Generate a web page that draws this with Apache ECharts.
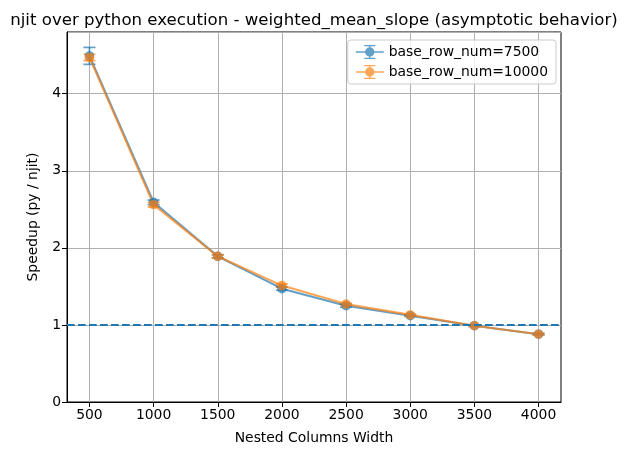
<!DOCTYPE html>
<html><head><meta charset="utf-8">
<script src="https://cdn.jsdelivr.net/npm/echarts@6/dist/echarts.min.js"></script>
<style>html,body{margin:0;padding:0;background:#fff}#c{width:628px;height:455px}</style>
</head><body><div id="c"></div>
<script>
const widths=[500,1000,1500,2000,2500,3000,3500,4000];
const speedup7500=[4.49,2.59,1.89,1.47,1.25,1.12,0.99,0.88];
const err7500=[0.11,0.03,0.02,0.02,0.02,0.01,0.01,0.01];
const speedup10000=[4.47,2.56,1.89,1.51,1.27,1.13,0.99,0.88];
const err10000=[0.04,0.03,0.02,0.02,0.01,0.01,0.01,0.01];
const xTicks=[500,1000,1500,2000,2500,3000,3500,4000];
const refLine=1;
const C0='#1f77b4', C1='#ff7f0e';
const FONT='DejaVu Sans';
const chart=echarts.init(document.getElementById('c'),null,{renderer:'canvas'});
const icon='path://M0,6.2L28,6.2L28,7.8L0,7.8Z M14,2.3A4.7,4.7 0 1,1 13.99,2.3Z M13.3,0L14.7,0L14.7,14L13.3,14Z M8.5,0L19.5,0L19.5,1.2L8.5,1.2Z M8.5,12.8L19.5,12.8L19.5,14L8.5,14Z';
function lineSeries(name,vals,color){
  return {type:'line',name,data:widths.map((w,i)=>[w,vals[i]]),symbol:'circle',symbolSize:9.5,
    lineStyle:{color,width:2.1,opacity:0.7},itemStyle:{color,opacity:0.7},z:4,animation:false};
}
function errSeries(name,vals,errs,color){
  return {type:'custom',name,data:widths.map((w,i)=>[w,vals[i]-errs[i],vals[i]+errs[i]]),
    encode:{x:0,y:[1,2]},z:3,silent:true,animation:false,
    renderItem:(params,api)=>{
      const lo=api.coord([api.value(0),api.value(1)]);
      const hi=api.coord([api.value(0),api.value(2)]);
      const cap=6;
      const st={stroke:color,lineWidth:1.7,opacity:0.7};
      return {type:'group',children:[
        {type:'line',shape:{x1:lo[0],y1:lo[1],x2:hi[0],y2:hi[1]},style:st},
        {type:'line',shape:{x1:lo[0]-cap,y1:lo[1],x2:lo[0]+cap,y2:lo[1]},style:st},
        {type:'line',shape:{x1:hi[0]-cap,y1:hi[1],x2:hi[0]+cap,y2:hi[1]},style:st}]};
    }};
}
const s1=lineSeries('base_row_num=7500',speedup7500,C0);
s1.markLine={silent:true,symbol:['none','none'],label:{show:false},
  lineStyle:{color:C0,width:2.1,type:[7.7,3.3],opacity:1},data:[{yAxis:refLine}]};
chart.setOption({
  animation:false,
  textStyle:{fontFamily:FONT},
  title:{text:'njit over python execution - weighted_mean_slope (asymptotic behavior)',left:'center',top:7,
    textStyle:{fontFamily:FONT,fontSize:16.6,fontWeight:'normal',color:'#000'}},
  grid:{left:67,right:67,top:32,bottom:53,show:true,borderColor:'#000',borderWidth:1,backgroundColor:'transparent'},
  legend:{orient:'vertical',right:72,top:40,align:'left',icon:icon,itemWidth:28,itemHeight:14,itemGap:6,
    padding:[5,8,5,8],backgroundColor:'rgba(255,255,255,0.8)',borderColor:'#cccccc',borderWidth:1,borderRadius:3,
    textStyle:{fontFamily:FONT,fontSize:13.9,color:'#000'},
    data:[{name:'base_row_num=7500',itemStyle:{color:C0,opacity:0.7}},{name:'base_row_num=10000',itemStyle:{color:C1,opacity:0.7}}]},
  xAxis:{type:'value',min:325,max:4175,name:'Nested Columns Width',nameLocation:'middle',nameGap:29,
    nameTextStyle:{fontFamily:FONT,fontSize:13.9,color:'#000'},
    axisLine:{show:true,lineStyle:{color:'#000',width:1}},
    axisTick:{show:true,length:5,inside:false,customValues:xTicks,lineStyle:{color:'#000'}},
    axisLabel:{customValues:xTicks,formatter:v=>String(v),fontFamily:FONT,fontSize:13.9,color:'#000',margin:6},
    splitLine:{show:true,lineStyle:{color:'#b0b0b0',width:1}}},
  yAxis:{type:'value',min:0,max:4.8,interval:1,name:'Speedup (py / njit)',nameLocation:'middle',nameGap:27,
    nameTextStyle:{fontFamily:FONT,fontSize:13.9,color:'#000'},
    axisLine:{show:true,lineStyle:{color:'#000',width:1}},
    axisTick:{show:true,length:5,lineStyle:{color:'#000'}},
    axisLabel:{fontFamily:FONT,fontSize:13.9,color:'#000',margin:6,showMaxLabel:false},
    splitLine:{show:true,lineStyle:{color:'#b0b0b0',width:1}}},
  series:[
    errSeries('base_row_num=7500',speedup7500,err7500,C0),
    s1,
    errSeries('base_row_num=10000',speedup10000,err10000,C1),
    lineSeries('base_row_num=10000',speedup10000,C1)
  ]
});
</script></body></html>
